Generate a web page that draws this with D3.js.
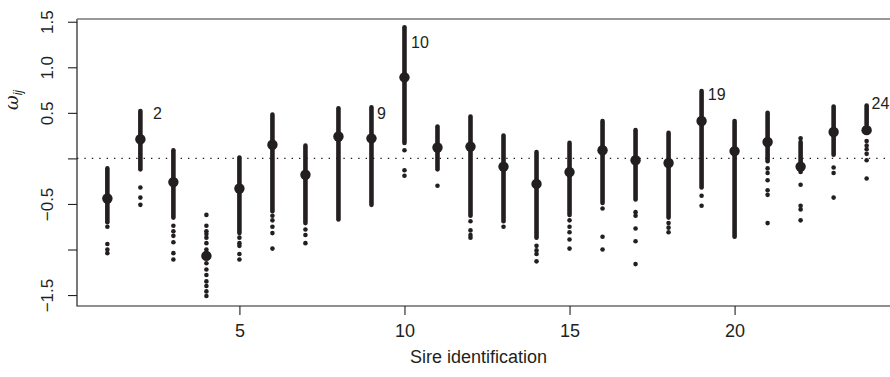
<!DOCTYPE html>
<html>
<head>
<meta charset="utf-8">
<script src="https://cdn.jsdelivr.net/npm/d3@7/dist/d3.min.js"></script>
<style>
	html, body { margin: 0; padding: 0; background: #fff; }
	svg text { font-family: "Liberation Sans", Arial, Helvetica, sans-serif; fill: #231f20; }
</style>
</head>
<body>
<svg id="chart"></svg>
<script>
// sire ids on the x axis
const sires = [1, 2, 3, 4, 5, 6, 7, 8, 9, 10, 11, 12, 13, 14, 15, 16, 17, 18, 19, 20, 21, 22, 23, 24];

// posterior mean of omega_ij per sire (big dot)
const means = [-0.44, 0.21, -0.26, -1.07, -0.33, 0.15, -0.18, 0.24, 0.22, 0.89, 0.12, 0.13,
	-0.09, -0.28, -0.15, 0.09, -0.02, -0.05, 0.41, 0.08, 0.18, -0.09, 0.29, 0.31];

// range where the small dots overlap into a solid column (null = no solid part)
const denseHi = [-0.11, 0.52, 0.09, null, 0.01, 0.48, 0.14, 0.55, 0.56, 1.44, 0.35, 0.46,
	0.25, 0.07, 0.17, 0.41, 0.31, 0.28, 0.74, 0.41, 0.50, 0.18, 0.57, 0.58];
const denseLo = [-0.70, -0.12, -0.65, null, -0.82, -0.58, -0.71, -0.67, -0.51, 0.17, -0.12, -0.63,
	-0.69, -0.87, -0.62, -0.49, -0.45, -0.65, -0.32, -0.86, -0.03, -0.15, 0.04, 0.37];

// loose single dots outside the solid column
const outliers = [
	[-0.75, -0.94, -1.00, -1.04],
	[-0.32, -0.43, -0.51],
	[-0.74, -0.80, -0.85, -0.92, -1.04, -1.11],
	[-0.62, -0.74, -0.80, -0.83, -0.87, -0.93, -1.00, -1.03, -1.15, -1.22, -1.28, -1.35, -1.40, -1.46, -1.51],
	[-0.87, -0.93, -0.96, -1.05, -1.11],
	[-0.63, -0.68, -0.75, -0.82, -0.99],
	[-0.78, -0.84, -0.93],
	[],
	[],
	[0.09, -0.13, -0.19],
	[-0.30],
	[-0.69, -0.79, -0.84, -0.87],
	[-0.75],
	[-0.96, -1.01, -1.05, -1.13],
	[-0.68, -0.75, -0.81, -0.89, -0.99],
	[-0.55, -0.86, -1.00],
	[-0.59, -0.63, -0.77, -0.91, -1.16],
	[-0.71, -0.76, -0.81],
	[-0.41, -0.52],
	[],
	[-0.11, -0.16, -0.24, -0.35, -0.40, -0.71],
	[0.22, -0.29, -0.52, -0.56, -0.68],
	[-0.10, -0.16, -0.43],
	[0.19, 0.14, 0.10, 0.05, -0.02, -0.22]
];

// annotated sires
const labelText = ["2", "9", "10", "19", "24"];
const labelX = [2.38, 9.17, 10.2, 19.19, 24.15];
const labelY = [0.50, 0.50, 1.28, 0.70, 0.61];

const xTicks = [5, 10, 15, 20];
const yTicks = [-1.5, -1.0, -0.5, 0, 0.5, 1.0, 1.5];
const yTickLabels = ["\u22121.5", "", "\u22120.5", "", "0.5", "1.0", "1.5"];

const width = 890;
const height = 377;
const INK = "#231f20";

const svg = d3.select("#chart")
	.attr("width", width)
	.attr("height", height);

const box = { left: 77, right: 897, top: 19, bottom: 306 };

const x = d3.scaleLinear().domain([0.08, 24.92]).range([box.left, box.right]);
const y = d3.scaleLinear().domain([-1.62, 1.53]).range([box.bottom, box.top]);

// reference line at zero
svg.append("line")
	.attr("x1", box.left).attr("x2", width)
	.attr("y1", y(0)).attr("y2", y(0))
	.attr("stroke", INK)
	.attr("stroke-width", 1.4)
	.attr("stroke-dasharray", "1.4,6");

// solid columns
svg.append("g")
	.selectAll("line")
	.data(sires.filter((d, i) => denseHi[i] !== null))
	.join("line")
	.attr("x1", d => x(d)).attr("x2", d => x(d))
	.attr("y1", d => y(denseHi[d - 1]))
	.attr("y2", d => y(denseLo[d - 1]))
	.attr("stroke", INK)
	.attr("stroke-width", 4.6)
	.attr("stroke-linecap", "round");

// loose dots
const loose = sires.flatMap((s, i) => outliers[i].map(v => ({ s, v })));
svg.append("g")
	.selectAll("circle")
	.data(loose)
	.join("circle")
	.attr("cx", d => x(d.s))
	.attr("cy", d => y(d.v))
	.attr("r", 2.3)
	.attr("fill", INK);

// means
svg.append("g")
	.selectAll("circle")
	.data(sires)
	.join("circle")
	.attr("cx", d => x(d))
	.attr("cy", (d, i) => y(means[i]))
	.attr("r", 5.2)
	.attr("fill", INK);

// sire labels
svg.append("g")
	.selectAll("text")
	.data(labelText)
	.join("text")
	.attr("x", (d, i) => x(labelX[i]))
	.attr("y", (d, i) => y(labelY[i]))
	.attr("dy", "0.36em")
	.attr("font-size", 16)
	.text(d => d);

// box
svg.append("path")
	.attr("d", `M${box.left},${box.top}V${box.bottom}H${box.right}`)
	.attr("fill", "none")
	.attr("stroke", INK)
	.attr("stroke-width", 1.2);
svg.append("line")
	.attr("x1", box.left).attr("x2", box.right)
	.attr("y1", box.top).attr("y2", box.top)
	.attr("stroke", "#777")
	.attr("stroke-width", 1.6);

// x axis
const xAxis = d3.axisBottom(x).tickValues(xTicks).tickSize(9).tickPadding(9).tickFormat(d3.format("d"));
svg.append("g")
	.attr("transform", `translate(0, ${box.bottom})`)
	.call(xAxis)
	.call(g => g.select(".domain").remove())
	.call(g => g.selectAll(".tick line").attr("stroke", INK).attr("stroke-width", 1.1))
	.call(g => g.selectAll(".tick text")
		.attr("font-size", 18)
		.attr("font-family", null)
		.attr("fill", INK));

// y axis, labels parallel to the axis
const yAxis = d3.axisLeft(y).tickValues(yTicks).tickSize(9).tickFormat((d, i) => yTickLabels[i]);
svg.append("g")
	.attr("transform", `translate(${box.left}, 0)`)
	.call(yAxis)
	.call(g => g.select(".domain").remove())
	.call(g => g.selectAll(".tick line").attr("stroke", INK).attr("stroke-width", 1.1))
	.call(g => g.selectAll(".tick text")
		.attr("transform", "rotate(-90)")
		.attr("x", 0)
		.attr("y", -24)
		.attr("dy", 0)
		.attr("text-anchor", "middle")
		.attr("font-size", 17)
		.attr("font-family", null)
		.attr("fill", INK));

// axis titles
svg.append("text")
	.attr("x", (box.left + width) / 2 - 5)
	.attr("y", 363)
	.attr("text-anchor", "middle")
	.attr("font-size", 18)
	.text("Sire identification");

const yTitle = svg.append("text")
	.attr("transform", `translate(18, 100) rotate(-90)`)
	.attr("text-anchor", "middle")
	.attr("font-size", 18);
yTitle.append("tspan")
	.attr("font-family", "'DejaVu Serif', 'Liberation Serif', serif")
	.attr("font-style", "italic")
	.text("\u03c9");
yTitle.append("tspan")
	.attr("font-size", 12)
	.attr("font-style", "italic")
	.attr("dy", 4)
	.text("ij");
</script>
</body>
</html>
